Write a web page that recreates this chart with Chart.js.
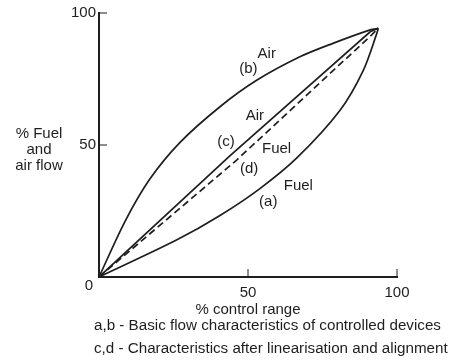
<!DOCTYPE html>
<html>
<head>
<meta charset="utf-8">
<script src="https://cdn.jsdelivr.net/npm/chart.js@4.4.0/dist/chart.umd.min.js"></script>
<style>
  body { margin: 0; background: #fff; }
  #wrap { position: relative; width: 451px; height: 360px; font-family: "Liberation Sans", Arial, sans-serif; color: #1e1e1e; }
  #chart { position: absolute; left: 0; top: 0; }
  .txt { position: absolute; font-size: 15px; line-height: 16px; white-space: nowrap; }
  .cap { font-size: 15.2px; }
</style>
</head>
<body>
<div id="wrap">
  <canvas id="chart" width="451" height="360"></canvas>
  <div class="txt" style="left:0; width:78px; top:125px; text-align:center;">% Fuel<br>and<br>air flow</div>
  <div class="txt" style="left:148px; width:200px; top:301px; text-align:center;">% control range</div>
  <div class="txt cap" style="left:94px; top:317px;">a,b - Basic flow characteristics of controlled devices</div>
  <div class="txt cap" style="left:94px; top:340px;">c,d - Characteristics after linearisation and alignment</div>
</div>
<script>
// --- Daten (x = % control range, y = % Fuel/air flow) ---
const tickValues = [0, 50, 100];

// (a) Fuel, Grundkennlinie
const fuelBasic = [[0, 0], [26, 14], [40.6, 23.3], [54, 33.5], [66.3, 45], [80.9, 63.2], [88.7, 78.3], [93.2, 92.2], [93.7, 94.2]];
// (b) Air, Grundkennlinie
const airBasic = [[0, 0], [8.7, 21], [17, 37], [27.2, 51], [40.6, 64.5], [52.9, 74.5], [67.4, 83.4], [78.5, 88.5], [91, 93.6], [93.7, 94.2]];
// (c) Air, linearisiert
const airLinear = [[0, 0], [44, 46], [91, 92.9], [93.7, 94.2]];
// (d) Fuel, linearisiert
const fuelLinear = [[0, 0], [46.2, 44.3], [91.5, 91.7], [93.7, 94.2]];

// Beschriftungen an den Kurven
const labelTexts = ['Air', '(b)', 'Air', '(c)', 'Fuel', '(d)', 'Fuel', '(a)'];
const labelX = [56.3, 50.1, 52.3, 42.6, 59.6, 50.4, 66.9, 56.8];
const labelY = [84.7, 79.0, 60.9, 51.2, 48.7, 40.8, 34.4, 28.5];

const ink = '#1e1e1e';
const font = '"Liberation Sans", Arial, sans-serif';

function toPoints(arr) {
    return arr.map(p => ({ x: p[0], y: p[1] }));
}

function lineSet(arr, dashed, smooth) {
    return {
        data: toPoints(arr),
        borderColor: ink,
        borderWidth: 1.7,
        borderDash: dashed ? [7, 4] : [],
        pointRadius: 0,
        fill: false,
        tension: smooth ? 0.3 : 0
    };
}

// --- Plugin: Kurvenbeschriftung, Tick-Striche nach innen, "0" am Ursprung ---
const extrasPlugin = {
    id: 'extras',
    afterDatasetsDraw(chart) {
        const ctx = chart.ctx;
        const xs = chart.scales.x, ys = chart.scales.y;
        ctx.save();
        ctx.fillStyle = ink;
        ctx.font = '15px ' + font;
        ctx.textAlign = 'center';
        ctx.textBaseline = 'middle';
        for (let i = 0; i < labelTexts.length; i++) {
            ctx.fillText(labelTexts[i], xs.getPixelForValue(labelX[i]), ys.getPixelForValue(labelY[i]));
        }
        // Ursprung
        ctx.fillText('0', xs.getPixelForValue(0) - 10, ys.getPixelForValue(0) + 9);

        // Tick-Striche nach innen
        ctx.strokeStyle = ink;
        ctx.lineWidth = 1;
        ctx.beginPath();
        const x0 = xs.getPixelForValue(0), y0 = ys.getPixelForValue(0);
        for (const v of tickValues) {
            if (v === 0) continue;
            const px = xs.getPixelForValue(v);
            ctx.moveTo(px, y0);
            ctx.lineTo(px, y0 - 8);
            const py = ys.getPixelForValue(v);
            ctx.moveTo(x0, py);
            ctx.lineTo(x0 + 8, py);
        }
        ctx.stroke();
        ctx.restore();
    }
};

new Chart(document.getElementById('chart'), {
    type: 'line',
    data: {
        datasets: [
            lineSet(fuelBasic, false, true),
            lineSet(airBasic, false, true),
            lineSet(airLinear, false, false),
            lineSet(fuelLinear, true, false)
        ]
    },
    options: {
        responsive: false,
        animation: false,
        events: [],
        layout: { padding: { top: 13, right: 54, left: 0, bottom: 0 } },
        plugins: { legend: { display: false }, tooltip: { enabled: false } },
        scales: {
            x: {
                type: 'linear', min: 0, max: 100,
                afterBuildTicks: s => { s.ticks = tickValues.map(v => ({ value: v })); },
                afterFit: s => { s.height = 83; },
                grid: { drawOnChartArea: false, drawTicks: false },
                border: { display: true, color: ink, width: 2 },
                ticks: {
                    color: ink, font: { size: 15, family: font }, padding: 7, maxRotation: 0,
                    callback: v => (v === 0 ? '' : String(v))
                }
            },
            y: {
                type: 'linear', min: 0, max: 100,
                afterBuildTicks: s => { s.ticks = tickValues.map(v => ({ value: v })); },
                afterFit: s => { s.width = 99; },
                grid: { drawOnChartArea: false, drawTicks: false },
                border: { display: true, color: ink, width: 2 },
                ticks: {
                    color: ink, font: { size: 15, family: font }, padding: 3,
                    callback: v => (v === 0 ? '' : String(v))
                }
            }
        }
    },
    plugins: [extrasPlugin]
});
</script>
</body>
</html>
